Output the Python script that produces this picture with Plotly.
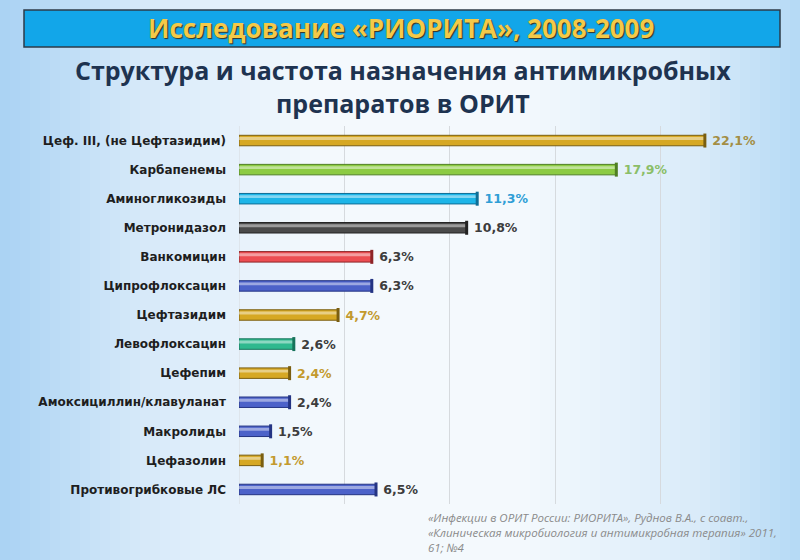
import plotly.graph_objects as go

categories = [
    "Цеф. III, (не Цефтазидим)",
    "Карбапенемы",
    "Аминогликозиды",
    "Метронидазол",
    "Ванкомицин",
    "Ципрофлоксацин",
    "Цефтазидим",
    "Левофлоксацин",
    "Цефепим",
    "Амоксициллин/клавуланат",
    "Макролиды",
    "Цефазолин",
    "Противогрибковые ЛС",
]
values = [22.1, 17.9, 11.3, 10.8, 6.3, 6.3, 4.7, 2.6, 2.4, 2.4, 1.5, 1.1, 6.5]
value_labels = ["22,1%", "17,9%", "11,3%", "10,8%", "6,3%", "6,3%", "4,7%",
                "2,6%", "2,4%", "2,4%", "1,5%", "1,1%", "6,5%"]

GOLD = "#D6A824"; GREEN = "#8CCB43"; CYAN = "#1DB5E8"; DARK = "#4A4A4A"
RED = "#EC4D52"; BLUE = "#4C62C9"; TEAL = "#2FB98E"
bar_colors = [GOLD, GREEN, CYAN, DARK, RED, BLUE, GOLD, TEAL, GOLD, BLUE, BLUE, GOLD, BLUE]
edge_colors = {GOLD: "#7A5E10", GREEN: "#4F7F22", CYAN: "#0E6E96", DARK: "#222222",
               RED: "#8E2427", BLUE: "#243483", TEAL: "#16735A"}
label_colors = ["#A38E45", "#8BBE68", "#2F9ED6", "#3C3C3C", "#3C3C3C", "#3C3C3C", "#C39A2E",
                "#3C3C3C", "#C39A2E", "#3C3C3C", "#3C3C3C", "#C39A2E", "#3C3C3C"]

W, H = 800, 560
L, R, T, B = 239, 34, 126, 56
PW, PH = W - L - R, H - T - B


def px(x):
    return (x - L) / PW


def py(y):
    return (H - B - y) / PH


def lerp(c1, c2, t):
    a = [int(c1[i:i + 2], 16) for i in (1, 3, 5)]
    b = [int(c2[i:i + 2], 16) for i in (1, 3, 5)]
    return "#%02x%02x%02x" % tuple(round(a[k] + (b[k] - a[k]) * t) for k in range(3))


# background gradient stops (pixel x, colour)
stops = [(0, "#A9D2F3"), (140, "#D6E9F9"), (320, "#F4F9FD"), (520, "#F4F9FD"),
         (700, "#D9EBF9"), (800, "#B4D9F5")]
shapes = []
step = 10
for x0 in range(0, W, step):
    xc = x0 + step / 2
    for i in range(len(stops) - 1):
        if stops[i][0] <= xc <= stops[i + 1][0]:
            t = (xc - stops[i][0]) / (stops[i + 1][0] - stops[i][0])
            col = lerp(stops[i][1], stops[i + 1][1], t)
            break
    shapes.append(dict(type="rect", xref="paper", yref="paper", x0=px(x0), x1=px(x0 + step + 1),
                       y0=py(H), y1=py(0), fillcolor=col, line_width=0, layer="below"))

# title box
shapes.append(dict(type="rect", xref="paper", yref="paper", x0=px(24), x1=px(780),
                   y0=py(47), y1=py(10), fillcolor="#12A6E9",
                   line=dict(color="#2E3B48", width=1.5), layer="above"))

fig = go.Figure()
fig.add_trace(go.Bar(
    x=values, y=categories, orientation="h", width=0.36,
    marker=dict(color=bar_colors, line=dict(color=[edge_colors[c] for c in bar_colors], width=1)),
    text=[" " + v for v in value_labels], textposition="outside", constraintext="none",
    textfont=dict(family="DejaVu Sans", size=12.5, color=label_colors, weight="bold"),
    cliponaxis=False, hoverinfo="skip", showlegend=False,
))
# glossy highlight
fig.add_trace(go.Bar(
    x=values, y=categories, orientation="h", width=0.1, offset=-0.12,
    marker=dict(color="rgba(255,255,255,0.45)", line_width=0),
    hoverinfo="skip", showlegend=False,
))
# dark end caps
fig.add_trace(go.Scatter(
    x=values, y=categories, mode="markers",
    marker=dict(symbol="line-ns", size=10,
                line=dict(color=[edge_colors[c] for c in bar_colors], width=3)),
    hoverinfo="skip", showlegend=False, cliponaxis=False,
))

annotations = [
    dict(text="Исследование «РИОРИТА», 2008-2009", x=px(401), y=py(28), xref="paper", yref="paper",
         showarrow=False, xanchor="center", yanchor="middle",
         font=dict(family="Open Sans", size=26, color="#F4C948", weight="bold",
                   shadow="1px 1px 1px #3a3020")),
    dict(text="Структура и частота назначения антимикробных<br>препаратов в ОРИТ",
         x=px(403), y=py(86), xref="paper", yref="paper", showarrow=False,
         xanchor="center", yanchor="middle",
         font=dict(family="Open Sans", size=25, color="#1E3350", weight="bold")),
    dict(text="«Инфекции в ОРИТ России: РИОРИТА», Руднов В.А., с соавт.,<br>"
              "«Клиническая микробиология и антимикробная терапия» 2011,<br>61; №4",
         x=px(426), y=py(508), xref="paper", yref="paper", showarrow=False,
         xanchor="left", yanchor="top", align="left",
         font=dict(family="Open Sans", size=11.5, color="#8A8A8A", style="italic")),
]

fig.update_layout(
    width=W, height=H, margin=dict(l=L, r=R, t=T, b=B, pad=0),
    paper_bgcolor="#F3F8FD", plot_bgcolor="rgba(0,0,0,0)",
    barmode="overlay", bargap=0.6,
    shapes=shapes, annotations=annotations,
    xaxis=dict(range=[0, 25], dtick=5, showgrid=True, gridcolor="#D6DADE", gridwidth=1,
               showticklabels=False, zeroline=False, showline=False, ticks=""),
    yaxis=dict(range=[12.5, -0.5], showgrid=False, zeroline=False, showline=False,
               ticks="", ticklabelstandoff=12,
               tickfont=dict(family="DejaVu Sans", size=12, color="#1E1E1E", weight="bold")),
)
fig.add_vline(x=0, line=dict(color="#D6DADE", width=1), layer="below")

fig.write_html("out.html", config={"displayModeBar": False},
               post_script="document.body.style.margin='0';")
